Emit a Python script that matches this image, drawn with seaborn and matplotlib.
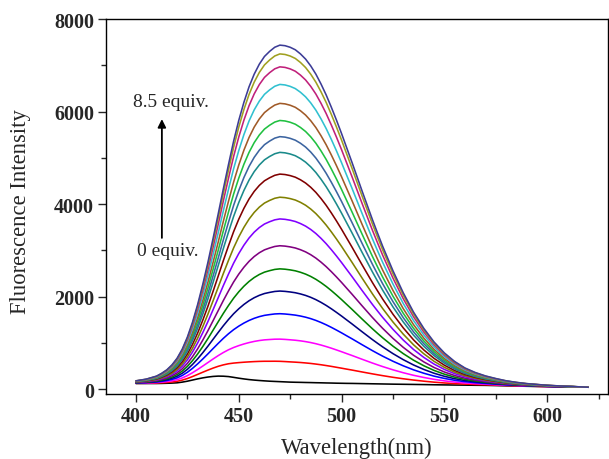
import numpy as np
import pandas as pd
import matplotlib
matplotlib.use("Agg")
import matplotlib.pyplot as plt
import seaborn as sns

# wavelength grid (nm), read finer around the band
wavelength = [400, 405, 410, 412.5, 415, 417.5, 420, 422.5, 425, 427.5,
              430, 432.5, 435, 437.5, 440, 442.5, 445, 447.5, 450, 452.5,
              455, 457.5, 460, 462.5, 465, 467.5, 470, 472.5, 475, 477.5,
              480, 482.5, 485, 487.5, 490, 492.5, 495, 497.5, 500, 502.5,
              505, 507.5, 510, 512.5, 515, 517.5, 520, 525, 530, 535,
              540, 545, 550, 555, 560, 565, 570, 575, 580, 585,
              590, 595, 600, 605, 610, 615, 620]

# 0 equiv. spectrum (black curve)
free_probe = [120, 120, 120, 122, 125, 129, 135, 150, 170, 195,
              220, 242, 260, 273, 280, 278, 270, 253, 235, 219,
              205, 194, 185, 177, 170, 165, 160, 155, 150, 147,
              145, 142, 140, 137, 135, 132, 130, 127, 125, 123,
              122, 120, 118, 116, 114, 112, 110, 106, 103, 100,
              97, 93, 90, 87, 85, 82, 80, 75, 70, 65,
              60, 56, 52, 48, 45, 42, 40]

# normalised shape of the 470 nm band (top curve minus black curve)
band_shape = [0.008, 0.013, 0.022, 0.030, 0.040, 0.054, 0.073, 0.098, 0.131, 0.172,
              0.221, 0.278, 0.341, 0.410, 0.482, 0.557, 0.630, 0.702, 0.766, 0.822,
              0.870, 0.909, 0.940, 0.964, 0.980, 0.993, 1.000, 0.999, 0.995, 0.988,
              0.976, 0.961, 0.941, 0.917, 0.888, 0.856, 0.820, 0.782, 0.742, 0.700,
              0.658, 0.615, 0.572, 0.530, 0.488, 0.448, 0.409, 0.337, 0.272, 0.215,
              0.167, 0.127, 0.095, 0.070, 0.051, 0.038, 0.028, 0.021, 0.015, 0.011,
              0.008, 0.006, 0.004, 0.003, 0.002, 0.001, 0.000]

# peak intensity at ~470 nm for each addition
equiv = [0, 0.5, 1, 1.5, 2, 2.5, 3, 3.5, 4, 4.5, 5, 5.5, 6, 6.5, 7, 7.5, 8, 8.5]
peak = [160, 600, 1080, 1630, 2120, 2600, 3100, 3680, 4150, 4650,
        5120, 5460, 5810, 6180, 6590, 6970, 7250, 7440]

colors = ["#000000", "#ff0000", "#ff00ff", "#0000ff", "#000080", "#008000",
          "#800080", "#8000ff", "#808000", "#800000", "#1a8a8a", "#3c64a0",
          "#20c040", "#a05a28", "#30c0d0", "#c0207a", "#a0a020", "#3c3c96"]

rows = []
for i, (eq, pk) in enumerate(zip(equiv, peak)):
    for w, base, s in zip(wavelength, free_probe, band_shape):
        if i == 0:
            val = base
        else:
            val = base + (pk - peak[0]) * s
        rows.append({"equiv": str(eq), "wavelength": w, "intensity": val})
df = pd.DataFrame(rows)

sns.set_style("white")
plt.rcParams["font.family"] = ["Liberation Serif", "DejaVu Serif"]

fig = plt.figure(figsize=(6.09, 4.6), dpi=100)
ax = fig.add_axes([0.174, 0.141, 0.824, 0.815])

sns.lineplot(data=df, x="wavelength", y="intensity", hue="equiv",
             hue_order=[str(e) for e in equiv], palette=colors,
             linewidth=1.15, legend=False, errorbar=None, ax=ax)

ax.set_xlim(385.4, 629.5)
ax.set_ylim(-110, 8000)
ax.set_xticks([400, 450, 500, 550, 600])
ax.set_xticks([425, 475, 525, 575, 625], minor=True)
ax.set_yticks([0, 2000, 4000, 6000, 8000])
ax.set_yticks([1000, 3000, 5000, 7000], minor=True)
ax.tick_params(axis="both", which="major", direction="out", length=5.5, width=1,
               labelsize=14.5, pad=3, bottom=True, left=True, top=False, right=False)
ax.tick_params(axis="both", which="minor", direction="out", length=3.5, width=1,
               bottom=True, left=True, top=False, right=False)
for lab in ax.get_xticklabels() + ax.get_yticklabels():
    lab.set_fontweight("bold")
for sp in ax.spines.values():
    sp.set_color("black")
    sp.set_linewidth(1.0)

ax.set_xlabel("Wavelength(nm)", fontsize=16.3)
ax.set_ylabel("Fluorescence Intensity", fontsize=16.3)
ax.xaxis.set_label_coords(0.5, -0.142)
ax.yaxis.set_label_coords(-0.171, 0.49)
ax.xaxis.label.set_va("center")
ax.yaxis.label.set_va("center")

ax.annotate("", xy=(412.6, 5900), xytext=(412.6, 3210),
            arrowprops=dict(arrowstyle="-|>", color="black", lw=1.3,
                            mutation_scale=12))
ax.text(417, 6225, "8.5 equiv.", ha="center", va="center", fontsize=14)
ax.text(415.5, 2990, "0 equiv.", ha="center", va="center", fontsize=14)

fig.savefig("out.png", dpi=100)
